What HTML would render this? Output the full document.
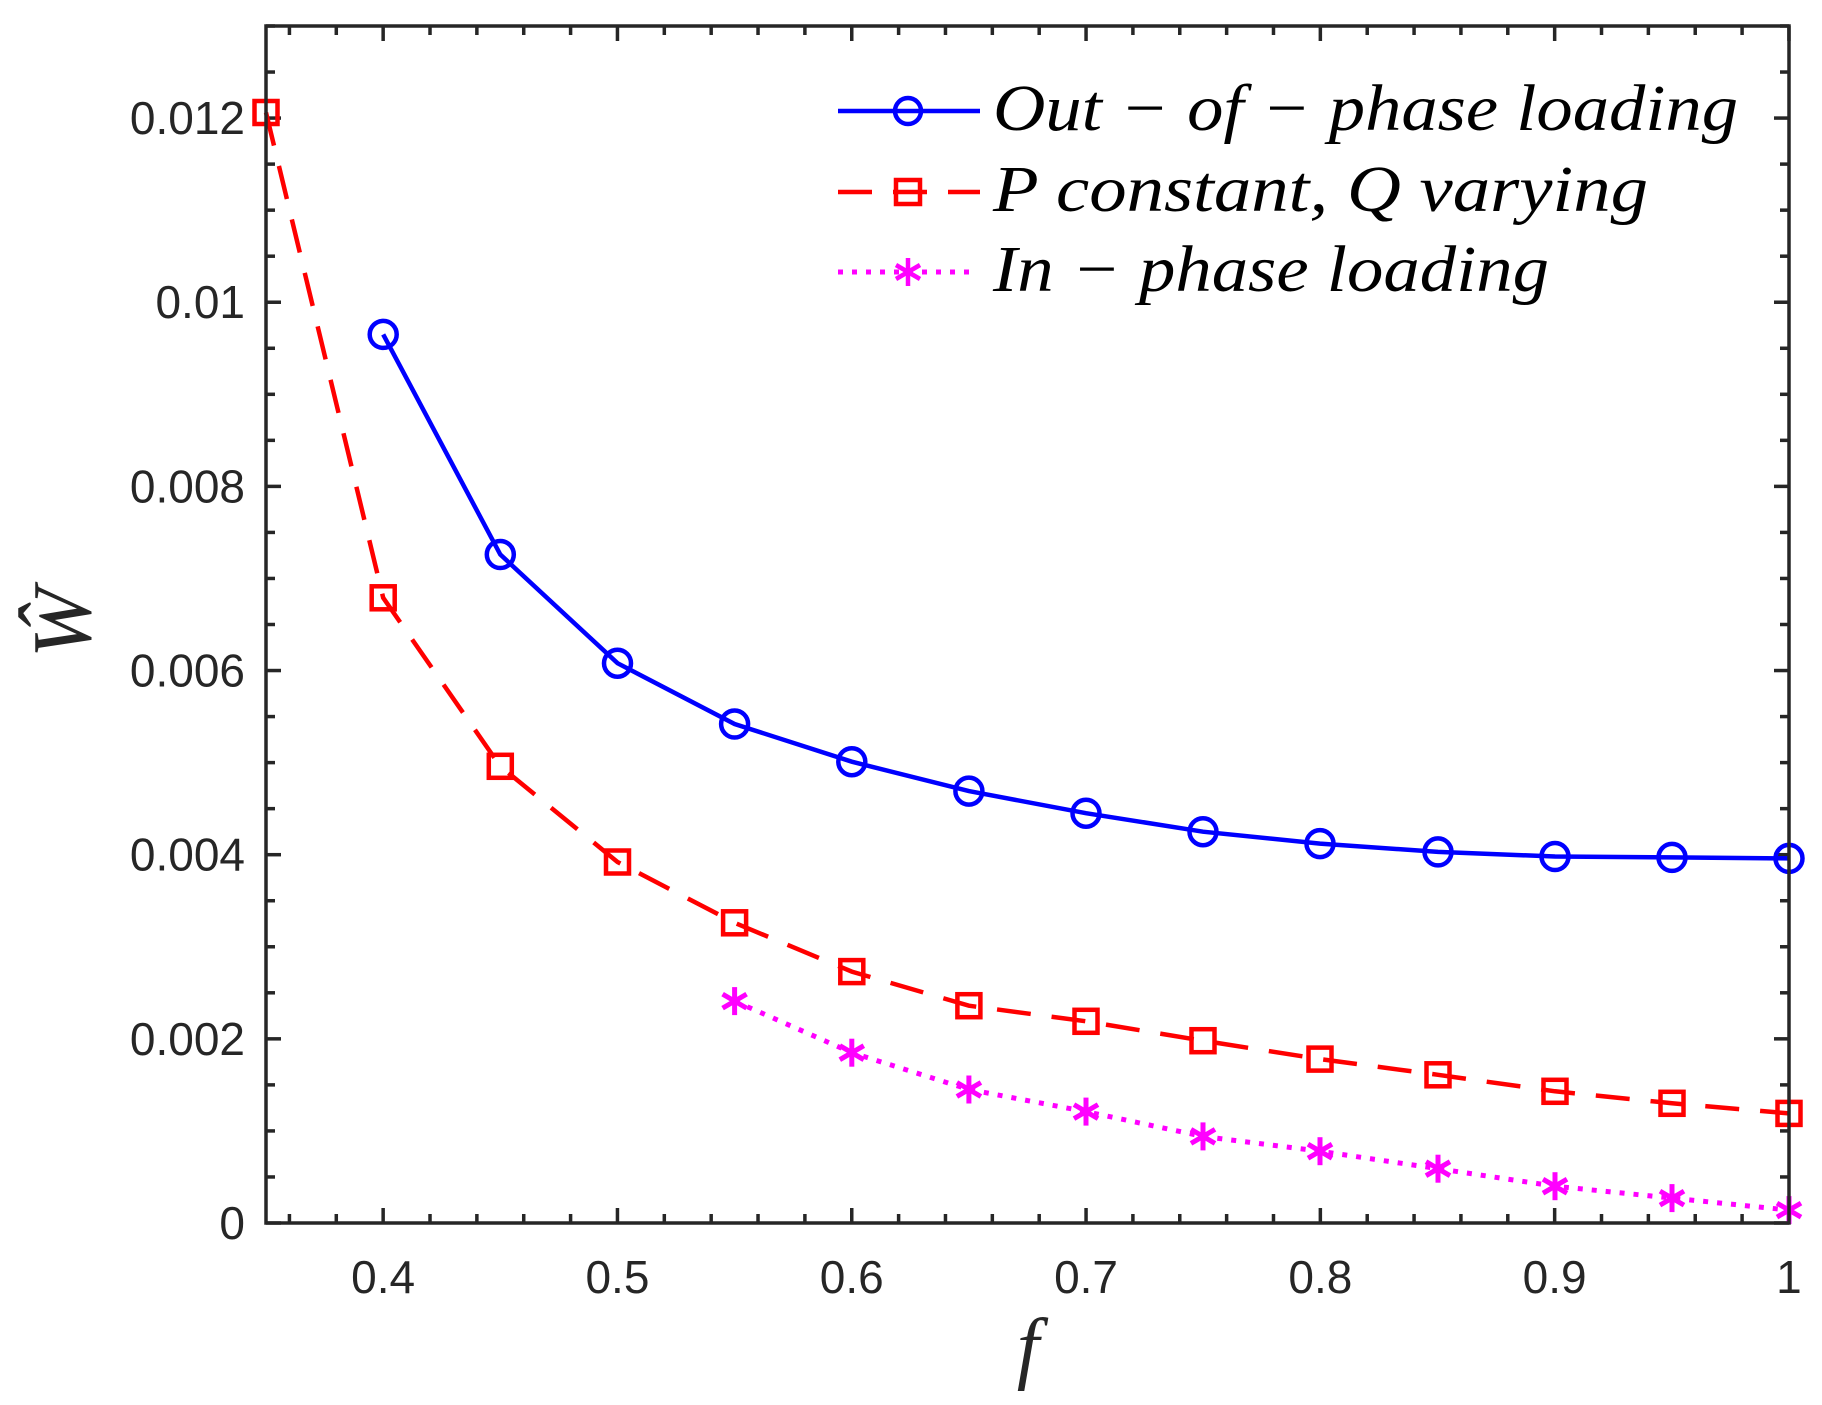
<!DOCTYPE html>
<html><head><meta charset="utf-8"><style>
html,body{margin:0;padding:0;background:#fff;}
svg{display:block;}
.tl{font-family:"Liberation Sans",sans-serif;font-size:46px;fill:#262626;}
.lg{font-family:"Liberation Serif",serif;font-style:italic;font-size:66px;fill:#000;}
</style></head><body>
<svg id="s" width="1822" height="1405" viewBox="0 0 1822 1405" xmlns="http://www.w3.org/2000/svg">
<rect width="1822" height="1405" fill="#fff"/>
<g id="ticks" stroke="#262626" stroke-width="3.5" fill="none"></g>
<g id="labels"></g>
<polyline fill="none" stroke="#0000ff" stroke-width="4.5" points="383.2,334.4 500.3,554.5 617.5,663.2 734.6,724.0 851.8,761.7 968.9,791.1 1086,813.2 1203,831.7 1320,843.6 1438,851.9 1555,856.5 1672,857.4 1789,858.4"/>
<polyline fill="none" stroke="#ff0000" stroke-width="4.5" stroke-dasharray="34 21" points="266,112.5 383.2,597.8 500.3,766.3 617.5,862.0 734.6,922.8 851.8,971.6 968.9,1005.7 1086,1021.3 1203,1040.7 1320,1059.1 1438,1074.8 1555,1091.3 1672,1103.3 1789,1113.4"/>
<polyline fill="none" stroke="#ff00ff" stroke-width="5" stroke-dasharray="5 9" points="734.6,1001.1 851.8,1052.7 968.9,1089.5 1086,1111.6 1203,1136.4 1320,1151.2 1438,1168.7 1555,1186.2 1672,1198.1 1789,1210.1"/>
<g id="mk"></g>
<rect x="266" y="26" width="1523" height="1197" fill="none" stroke="#262626" stroke-width="3.5"/>
<line x1="838" y1="111" x2="980" y2="111" stroke="#0000ff" stroke-width="4.5"/>
<circle cx="908" cy="111" r="13" fill="none" stroke="#0000ff" stroke-width="4.5"/>
<line x1="838" y1="192" x2="980" y2="192" stroke="#ff0000" stroke-width="4.5" stroke-dasharray="34 21"/>
<rect x="896" y="180" width="24" height="24" fill="none" stroke="#ff0000" stroke-width="4.5"/>
<line x1="838" y1="272" x2="972" y2="272" stroke="#ff00ff" stroke-width="5" stroke-dasharray="5 9"/>
<g stroke="#ff00ff" stroke-width="4.5"><line x1="908" y1="258" x2="908" y2="286"/><line x1="896" y1="265" x2="920" y2="279"/><line x1="896" y1="279" x2="920" y2="265"/></g>
<text class="lg" x="993" y="130" textLength="745" lengthAdjust="spacingAndGlyphs">Out − of − phase loading</text>
<text class="lg" x="993" y="211" textLength="655" lengthAdjust="spacingAndGlyphs">P constant, Q varying</text>
<text class="lg" x="993" y="291" textLength="556" lengthAdjust="spacingAndGlyphs">In − phase loading</text>
<text x="1028" y="1374" text-anchor="middle" font-family="Liberation Serif,serif" font-style="italic" font-size="80" fill="#262626">f</text>
<text transform="translate(90,623) rotate(-90)" text-anchor="middle" font-family="Liberation Serif,serif" font-style="italic" font-size="84" fill="#262626">Ŵ</text>
</svg>
<script>
var NS="http://www.w3.org/2000/svg";
function el(p,t,a,txt){var e=document.createElementNS(NS,t);for(var k in a)e.setAttribute(k,a[k]);if(txt)e.textContent=txt;p.appendChild(e);return e;}
var T=document.getElementById('ticks'),L=document.getElementById('labels'),M=document.getElementById('mk');
function X(f){return 266+(f-0.35)*2343;}function Y(v){return 1223-v*92077;}
for(var i=0;i<=32;i++){var f=0.36+i*0.02;var x=X(f);var maj=Math.abs(Math.round(f*10)-f*10)<1e-6;var l=maj?15:9;
el(T,'line',{x1:x,y1:1223,x2:x,y2:1223-l});el(T,'line',{x1:x,y1:26,x2:x,y2:26+l});
if(maj){el(L,'text',{x:x,y:1293,'text-anchor':'middle','class':'tl'},String(Math.round(f*10)/10));}}
var yl=['0','0.002','0.004','0.006','0.008','0.01','0.012'];
for(var j=0;j<=26;j++){var v=j*0.0005;var y=Y(v);var maj=j%4==0;var l=maj?15:9;
el(T,'line',{x1:266,y1:y,x2:266+l,y2:y});el(T,'line',{x1:1789,y1:y,x2:1789-l,y2:y});
if(maj)el(L,'text',{x:245,y:y+16,'text-anchor':'end','class':'tl'},yl[j/4]);}
var B=[[383.2,334.4],[500.3,554.5],[617.5,663.2],[734.6,724.0],[851.8,761.7],[968.9,791.1],[1086,813.2],[1203,831.7],[1320,843.6],[1438,851.9],[1555,856.5],[1672,857.4],[1789,858.4]];
B.forEach(function(p){el(M,'circle',{cx:p[0],cy:p[1],r:13.5,fill:'none',stroke:'#0000ff','stroke-width':4.5});});
var R=[[266,112.5],[383.2,597.8],[500.3,766.3],[617.5,862.0],[734.6,922.8],[851.8,971.6],[968.9,1005.7],[1086,1021.3],[1203,1040.7],[1320,1059.1],[1438,1074.8],[1555,1091.3],[1672,1103.3],[1789,1113.4]];
R.forEach(function(p){el(M,'rect',{x:p[0]-11.5,y:p[1]-11.5,width:23,height:23,fill:'none',stroke:'#ff0000','stroke-width':4.5});});
var P=[[734.6,1001.1],[851.8,1052.7],[968.9,1089.5],[1086,1111.6],[1203,1136.4],[1320,1151.2],[1438,1168.7],[1555,1186.2],[1672,1198.1],[1789,1210.1]];
P.forEach(function(p){var x=p[0],y=p[1];var a={stroke:'#ff00ff','stroke-width':5};
el(M,'line',Object.assign({x1:x,y1:y-14,x2:x,y2:y+14},a));el(M,'line',Object.assign({x1:x-12,y1:y-7,x2:x+12,y2:y+7},a));el(M,'line',Object.assign({x1:x-12,y1:y+7,x2:x+12,y2:y-7},a));});
</script>
</body></html>
